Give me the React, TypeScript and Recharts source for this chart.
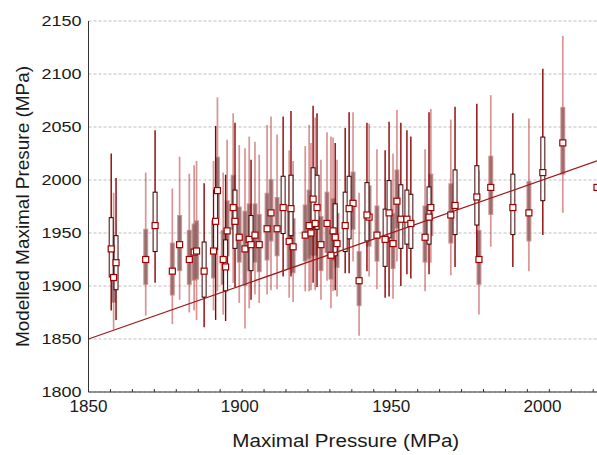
import React from 'react';
import {
  ScatterChart,
  Scatter,
  XAxis,
  YAxis,
  CartesianGrid,
  ErrorBar,
  ReferenceLine,
  Label
} from 'recharts';

// measured maximal pressure (x), MPa
const pressure = [
  1857.5, 1858.3, 1859.1, 1868.9, 1872.0, 1877.7, 1880.1, 1883.3, 1884.9, 1885.7,
  1888.2, 1891.3, 1892.0, 1892.6, 1894.5, 1895.3, 1895.8, 1897.8, 1898.4, 1899.8,
  1901.7, 1903.1, 1903.7, 1905.0, 1906.4, 1909.0, 1910.3, 1912.3, 1914.3, 1916.3,
  1916.9, 1917.6, 1921.6, 1922.9, 1923.5, 1924.2, 1924.9, 1925.5, 1926.8, 1928.8,
  1930.1, 1930.8, 1931.5, 1932.1, 1934.8, 1936.1, 1937.4, 1939.4, 1942.0, 1942.7,
  1945.3, 1948.0, 1949.3, 1950.6, 1951.9, 1953.2, 1955.2, 1956.5, 1961.2, 1962.5,
  1963.1, 1969.7, 1971.1, 1978.3, 1979.0, 1982.9, 1990.2, 1995.5, 2000.1, 2006.7,
  2018
];

// modelled maximal pressure: the square marker
const modelled = [
  1935, 1908, 1922, 1925, 1957, 1914, 1939, 1925, 1932, 1933,
  1914, 1933, 1961, 1990, 1925, 1918, 1952, 1974, 1961, 1946,
  1935, 1944, 1939, 1948, 1939, 1954, 1969, 1954, 1974, 1942,
  1973, 1937, 1948, 1957, 1950, 1982, 1959, 1974, 1939, 1959,
  1929, 1952, 1946, 1940, 1957, 1973, 1978, 1905, 1967, 1965,
  1948, 1944, 1969, 1940, 1980, 1963, 1963, 1959, 1946, 1965,
  1974, 1967, 1976, 1984, 1925, 1993, 1974, 1969, 2007, 2035,
  1993
];

const boxHigh = [
  1965, 1935, 1948, 1954, 1989, 1941, 1967, 1953, 1959, 1962,
  1942, 1962, 1991, 2022, 1953, 1944, 1981, 2005, 1991, 1975,
  1971, 1978, 1967, 1978, 1968, 1988, 2001, 1984, 2004, 1971,
  2005, 1964, 1977, 1991, 1978, 2012, 1994, 2005, 1966, 1989,
  1953, 1983, 1978, 1969, 1989, 2004, 2008, 1933, 1998, 1995,
  1976, 1973, 2000, 1969, 2010, 1996, 1991, 1987, 1976, 1994,
  2006, 1997, 2010, 2014, 1953, 2023, 2006, 1999, 2041, 2069,
  1993
];

const boxLow = [
  1908, 1884, 1896, 1901, 1932, 1891, 1914, 1901, 1905, 1906,
  1889, 1907, 1934, 1964, 1901, 1895, 1928, 1953, 1935, 1922,
  1900, 1914, 1914, 1922, 1913, 1924, 1942, 1928, 1949, 1916,
  1947, 1912, 1923, 1925, 1928, 1955, 1928, 1953, 1914, 1931,
  1906, 1923, 1928, 1917, 1932, 1944, 1953, 1881, 1942, 1937,
  1923, 1918, 1945, 1916, 1954, 1935, 1939, 1935, 1922, 1939,
  1947, 1940, 1948, 1957, 1901, 1967, 1948, 1942, 1980, 2005,
  1993
];

const whiskerHigh = [
  2025, 1988, 2002, 2007, 2047, 1992, 2022, 2006, 2014, 2018,
  1997, 2018, 2051, 2078, 2007, 2005, 2038, 2063, 2054, 2033,
  2030, 2041, 2019, 2036, 2024, 2052, 2060, 2043, 2060, 2028,
  2065, 2018, 2032, 2052, 2035, 2070, 2059, 2063, 2019, 2045,
  2041, 2040, 2035, 2019, 2049, 2064, 2064, 1988, 2054, 2053,
  2029, 2028, 2055, 2025, 2066, 2054, 2047, 2041, 2029, 2064,
  2067, 2057, 2069, 2072, 2009, 2080, 2063, 2058, 2105, 2136,
  1993
];

const whiskerLow = [
  1877, 1859, 1868, 1872, 1903, 1864, 1887, 1875, 1877, 1868,
  1861, 1877, 1868, 1895, 1873, 1867, 1896, 1903, 1899, 1884,
  1860, 1879, 1887, 1892, 1884, 1892, 1896, 1897, 1909, 1889,
  1909, 1885, 1895, 1895, 1896, 1903, 1896, 1899, 1887, 1905,
  1879, 1895, 1896, 1890, 1912, 1912, 1923, 1853, 1914, 1909,
  1897, 1889, 1890, 1888, 1923, 1900, 1911, 1907, 1895, 1911,
  1922, 1910, 1918, 1923, 1873, 1937, 1918, 1914, 1948, 1969,
  1993
];

// 'd' = dark outlined box, 'l' = light translucent box
const boxStyle = [
  'd', 'l', 'd', 'l', 'd', 'l', 'l', 'l', 'l', 'l',
  'd', 'l', 'd', 'l', 'l', 'd', 'l', 'l', 'd', 'l',
  'l', 'l', 'd', 'l', 'l', 'l', 'l', 'l', 'd', 'l',
  'd', 'l', 'l', 'l', 'l', 'd', 'l', 'd', 'l', 'l',
  'l', 'l', 'd', 'l', 'd', 'd', 'l', 'l', 'd', 'l',
  'l', 'd', 'd', 'l', 'l', 'd', 'd', 'd', 'l', 'd',
  'l', 'l', 'd', 'd', 'l', 'l', 'd', 'l', 'd', 'l',
  'l'
];

const xTicks = [1850, 1900, 1950, 2000];
const yTicks = [1800, 1850, 1900, 1950, 2000, 2050, 2100, 2150];
const minorTicks = Array.from({ length: 24 }, (_, i) => +(1850 + i * 7.25).toFixed(2));
const bottomTicks = Array.from(new Set([...minorTicks, ...xTicks])).sort((a, b) => a - b);

const rows = pressure.map((x, i) => {
  const m = modelled[i];
  return {
    x,
    y: m,
    style: boxStyle[i],
    whisker: [m - whiskerLow[i], whiskerHigh[i] - m],
    box: [m - boxLow[i], boxHigh[i] - m],
    boxIn: [Math.max(0, m - boxLow[i] - 1), Math.max(0, boxHigh[i] - m - 1)]
  };
});
const lightRows = rows.filter(r => r.style === 'l');
const darkRows = rows.filter(r => r.style === 'd');

const FONT = '"Liberation Sans", Arial, sans-serif';
const AXIS = '#333';

const Marker = (p: any) => {
  if (p.cx == null || p.cy == null) return null;
  return (
    <rect x={p.cx - 3} y={p.cy - 3} width={6} height={6}
      fill="#ffffff" stroke="#a00000" strokeWidth={1.2} />
  );
};

const BottomTick = (p: any) => {
  const v = p.payload.value;
  return (
    <g>
      {minorTicks.includes(v) && (
        <line x1={p.x} x2={p.x} y1={p.y} y2={p.y - 3} stroke={AXIS} strokeWidth={1} />
      )}
      {xTicks.includes(v) && (
        <text x={p.x} y={p.y + 20} textAnchor="middle" fontSize={16} fontFamily={FONT}
          fill="#1a1a1a" textLength={38} lengthAdjust="spacingAndGlyphs">
          {v}
        </text>
      )}
    </g>
  );
};

const TopTick = (p: any) => (
  <line x1={p.x} x2={p.x} y1={p.y} y2={p.y + 3} stroke={AXIS} strokeWidth={1} />
);

const LeftTick = (p: any) => (
  <text x={p.x} y={p.y + 4.5} textAnchor="end" fontSize={15.5} fontFamily={FONT}
    fill="#1a1a1a" textLength={40} lengthAdjust="spacingAndGlyphs">
    {p.payload.value}
  </text>
);

const XTitle = (props: any) => {
  const vb = props.viewBox || { x: 88.5, y: 392, width: 508.5, height: 30 };
  return (
    <text x={vb.x + vb.width / 2 + 3} y={vb.y + 55} textAnchor="middle" fontSize={17.5}
      fontFamily={FONT} fill="#1a1a1a" textLength={227} lengthAdjust="spacingAndGlyphs">
      Maximal Pressure (MPa)
    </text>
  );
};

const YTitle = (props: any) => {
  const vb = props.viewBox || { x: 0, y: 21, width: 88.5, height: 371 };
  const cx = 29;
  const cy = vb.y + vb.height / 2;
  return (
    <text x={cx} y={cy} transform={`rotate(-90, ${cx}, ${cy})`} textAnchor="middle"
      fontSize={17.5} fontFamily={FONT} fill="#1a1a1a" textLength={281}
      lengthAdjust="spacingAndGlyphs">
      Modelled Maximal Presure (MPa)
    </text>
  );
};

export default function App() {
  return (
    <div style={{ position: 'absolute', left: 0, top: 0, width: 597, height: 455, background: '#fff' }}>
      <ScatterChart width={597} height={455} margin={{ top: 21, right: 0, bottom: 33, left: 0 }}>
        <CartesianGrid vertical={false} stroke="#bdbdbd" strokeDasharray="3 2" />
        <XAxis
          xAxisId="top"
          orientation="top"
          type="number"
          domain={[1850, 2018]}
          allowDataOverflow
          ticks={minorTicks}
          interval={0}
          height={0}
          tickSize={0}
          tickMargin={0}
          tickLine={false}
          tick={TopTick}
          axisLine={{ stroke: AXIS }}
        />
        <XAxis
          dataKey="x"
          type="number"
          domain={[1850, 2018]}
          allowDataOverflow
          ticks={bottomTicks}
          interval={0}
          height={30}
          tickSize={0}
          tickMargin={0}
          tickLine={false}
          tick={BottomTick}
          axisLine={{ stroke: AXIS }}
        >
          <Label content={XTitle} />
        </XAxis>
        <YAxis
          dataKey="y"
          type="number"
          domain={[1800, 2150]}
          allowDataOverflow
          ticks={yTicks}
          interval={0}
          width={88.5}
          tickSize={0}
          tickMargin={7}
          tickLine={false}
          tick={LeftTick}
          axisLine={{ stroke: AXIS }}
        >
          <Label content={YTitle} />
        </YAxis>
        <Scatter data={lightRows} fill="#a00000" shape={Marker} isAnimationActive={false}>
          <ErrorBar dataKey="whisker" direction="y" width={0} stroke="rgba(185,60,60,0.55)"
            strokeWidth={1.7} isAnimationActive={false} />
          <ErrorBar dataKey="box" direction="y" width={0} stroke="rgba(200,125,125,0.8)"
            strokeWidth={5} isAnimationActive={false} />
          <ErrorBar dataKey="boxIn" direction="y" width={0} stroke="rgba(120,95,95,0.6)"
            strokeWidth={3} isAnimationActive={false} />
        </Scatter>
        <Scatter data={darkRows} fill="#a00000" shape={Marker} isAnimationActive={false}>
          <ErrorBar dataKey="whisker" direction="y" width={0} stroke="#8b0000"
            strokeWidth={1.4} isAnimationActive={false} />
          <ErrorBar dataKey="box" direction="y" width={0} stroke="#3c0808"
            strokeWidth={5} isAnimationActive={false} />
          <ErrorBar dataKey="boxIn" direction="y" width={0} stroke="#fff8f8"
            strokeWidth={3} isAnimationActive={false} />
        </Scatter>
        <ReferenceLine
          segment={[{ x: 1850, y: 1850 }, { x: 2018, y: 2018 }]}
          stroke="#a01818"
          strokeWidth={1.3}
        />
      </ScatterChart>
    </div>
  );
}
